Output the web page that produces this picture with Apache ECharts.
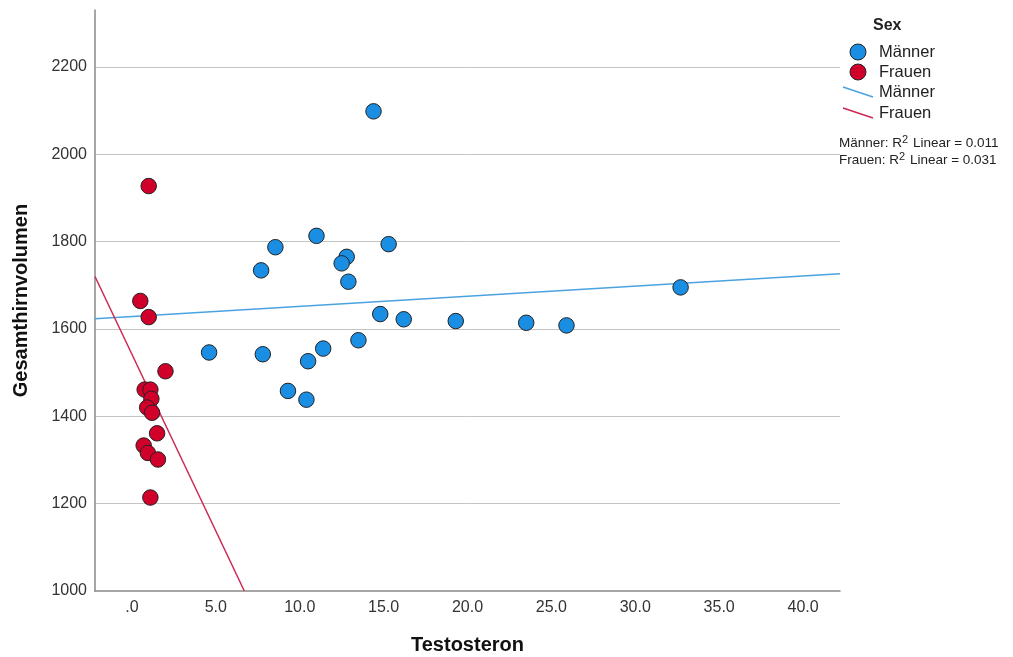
<!DOCTYPE html>
<html>
<head>
<meta charset="utf-8">
<script src="https://cdn.jsdelivr.net/npm/echarts@6/dist/echarts.min.js"></script>
<style>
html,body{margin:0;padding:0;background:#fff;}
#chart{width:1013px;height:657px;}
</style>
</head>
<body>
<div id="chart"></div>
<script>
// ---- data ----
const maleTestosteron = [14.4, 11.0, 8.55, 7.7, 15.3, 12.8, 12.5, 12.9, 32.7, 14.8, 16.2, 19.3, 23.5, 25.9, 4.6, 7.8, 11.4, 10.5, 13.5, 9.3, 10.4];
const maleVolumen     = [2098, 1813, 1787, 1734, 1794, 1765, 1750, 1708, 1695, 1634, 1622, 1618, 1614, 1608, 1546, 1542, 1555, 1526, 1574, 1458, 1438];
const femaleTestosteron = [1.0, 0.5, 1.0, 2.0, 0.76, 1.1, 1.16, 0.91, 1.2, 1.5, 0.7, 0.95, 1.55, 1.1];
const femaleVolumen     = [1927, 1664, 1627, 1503, 1461, 1461, 1440, 1420, 1408, 1361, 1333, 1316, 1301, 1214];
// fit line endpoints (x, y)
const maleFitX = [-2.2, 42.2];
const maleFitY = [1623, 1726];
const femaleFitX = [-2.2, 6.7];
const femaleFitY = [1720, 1000];
const xTicks = [0, 5, 10, 15, 20, 25, 30, 35, 40];
const xTickLabels = ['.0', '5.0', '10.0', '15.0', '20.0', '25.0', '30.0', '35.0', '40.0'];
const yTicks = [1000, 1200, 1400, 1600, 1800, 2000, 2200];
const yTickLabels = ['1000', '1200', '1400', '1600', '1800', '2000', '2200'];
const legendTitle = 'Sex';
const groupNames = ['Männer', 'Frauen'];
const rSquared = ['0.011', '0.031'];

const blue = '#1a8ee3';
const red = '#d1002b';
const blueLine = '#4aa3e0';
const redLine = '#cc2a55';
const font = '"Liberation Sans", Arial, sans-serif';

const zip = (a, b) => a.map((v, i) => [v, b[i]]);

const chart = echarts.init(document.getElementById('chart'), null, {renderer: 'canvas'});

const rStyle = (txt) => ({
  text: txt, font: '13.5px ' + font, fill: '#222', verticalAlign: 'middle',
  rich: {s: {fontSize: 11, fontFamily: font, verticalAlign: 'top', padding: [0, 1, 7, 0], fill: '#222'}}
});

const graphics = [
  {type: 'text', left: 873, top: 18, style: {text: legendTitle, font: 'bold 16px ' + font, fill: '#222'}},
  {type: 'circle', shape: {cx: 858, cy: 52, r: 8}, style: {fill: blue, stroke: '#222', lineWidth: 1}},
  {type: 'text', x: 879, y: 52, style: {text: groupNames[0], font: '16.5px ' + font, fill: '#222', verticalAlign: 'middle'}},
  {type: 'circle', shape: {cx: 858, cy: 72, r: 8}, style: {fill: red, stroke: '#222', lineWidth: 1}},
  {type: 'text', x: 879, y: 72, style: {text: groupNames[1], font: '16.5px ' + font, fill: '#222', verticalAlign: 'middle'}},
  {type: 'line', shape: {x1: 843, y1: 87, x2: 873, y2: 97}, style: {stroke: blueLine, lineWidth: 1.5}},
  {type: 'text', x: 879, y: 92, style: {text: groupNames[0], font: '16.5px ' + font, fill: '#222', verticalAlign: 'middle'}},
  {type: 'line', shape: {x1: 843, y1: 108, x2: 873, y2: 118}, style: {stroke: redLine, lineWidth: 1.5}},
  {type: 'text', x: 879, y: 113, style: {text: groupNames[1], font: '16.5px ' + font, fill: '#222', verticalAlign: 'middle'}},
  {type: 'text', x: 839, y: 143, style: rStyle(groupNames[0] + ': R{s|2} Linear = ' + rSquared[0])},
  {type: 'text', x: 839, y: 160, style: rStyle(groupNames[1] + ': R{s|2} Linear = ' + rSquared[1])}
];

chart.setOption({
  animation: false,
  backgroundColor: '#fff',
  grid: {left: 95, right: 173, top: 10, bottom: 66, containLabel: false, outerBoundsMode: 'none'},
  xAxis: {
    type: 'value', min: -2.2, max: 42.2,
    name: 'Testosteron', nameLocation: 'middle', nameGap: 44,
    nameTextStyle: {fontFamily: font, fontWeight: 'bold', fontSize: 20, color: '#111'},
    axisLine: {show: true, onZero: false, lineStyle: {color: '#888', width: 1.5}},
    axisTick: {show: false},
    splitLine: {show: false},
    axisLabel: {
      customValues: xTicks,
      formatter: v => xTickLabels[xTicks.indexOf(v)] ?? '',
      fontFamily: font, fontSize: 16, color: '#333', margin: 9
    }
  },
  yAxis: {
    type: 'value', min: 1000, max: 2330, interval: 200,
    name: 'Gesamthirnvolumen', nameLocation: 'middle', nameGap: 64,
    nameTextStyle: {fontFamily: font, fontWeight: 'bold', fontSize: 20, color: '#111'},
    axisLine: {show: true, onZero: false, lineStyle: {color: '#888', width: 1.5}},
    axisTick: {show: false},
    splitLine: {show: true, showMinLine: false, showMaxLine: false, lineStyle: {color: '#c4c4c4', width: 1}},
    axisLabel: {
      customValues: yTicks,
      formatter: v => yTickLabels[yTicks.indexOf(v)] ?? '',
      fontFamily: font, fontSize: 16, color: '#333', margin: 8
    }
  },
  series: [
    {
      type: 'line', name: 'fitM', data: zip(maleFitX, maleFitY), showSymbol: false, clip: true,
      lineStyle: {color: blueLine, width: 1.5}, silent: true, z: 1
    },
    {
      type: 'line', name: 'fitF', data: zip(femaleFitX, femaleFitY), showSymbol: false, clip: true,
      lineStyle: {color: redLine, width: 1.5}, silent: true, z: 1
    },
    {
      type: 'scatter', name: groupNames[0], data: zip(maleTestosteron, maleVolumen), symbolSize: 15.5,
      itemStyle: {color: blue, borderColor: '#222', borderWidth: 1, opacity: 1}, z: 3
    },
    {
      type: 'scatter', name: groupNames[1], data: zip(femaleTestosteron, femaleVolumen), symbolSize: 15.5,
      itemStyle: {color: red, borderColor: '#222', borderWidth: 1, opacity: 1}, z: 3
    }
  ],
  graphic: graphics
});
</script>
</body>
</html>
